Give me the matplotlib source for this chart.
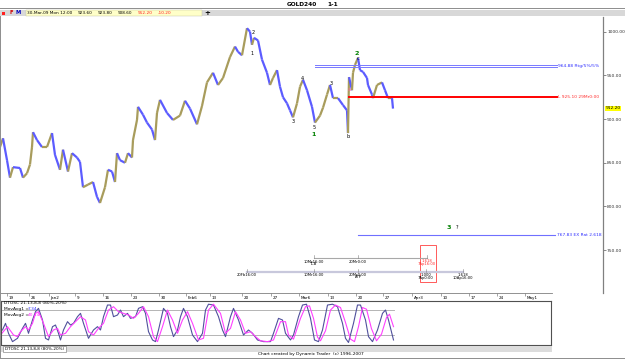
import matplotlib
matplotlib.use("Agg")
import matplotlib.pyplot as plt
from matplotlib.collections import LineCollection
from matplotlib.patches import Rectangle
from matplotlib.transforms import blended_transform_factory
import numpy as np

plt.rcParams['font.family'] = ['DejaVu Sans']

# ---------------- data ----------------
price_x = [0,3,7,10,13,20,23,27,30,32,33,37,42,47,52,55,60,63,68,72,77,80,83,88,93,97,100,105,108,112,
           115,117,120,125,128,132,133,137,138,143,147,152,155,157,160,167,173,180,185,190,197,202,207,213,
           218,223,230,235,238,242,247,250,252,254,258,262,267,270,273,277,280,283,287,290,293,297,300,303,
           307,312,315,320,323,327,330,333,338,343,347,348,349,352,353,355,358,360,363,367,368,372,373,377,
           382,385,388,392,393]
prices = [868,878,853,833,845,844,833,838,848,868,885,876,868,868,884,859,842,865,840,861,856,851,822,825,
          828,811,804,822,842,840,828,861,853,850,861,856,876,899,914,905,896,888,876,907,922,907,899,904,
          921,912,894,915,942,953,939,947,971,983,977,973,1004,1000,985,993,990,968,953,939,947,956,937,925,
          918,910,902,918,937,945,933,914,896,904,913,928,939,924,924,916,910,884,948,933,953,962,970,956,
          954,947,939,928,924,939,942,933,924,924,912]

osc1_x = [2,5,8,12,17,22,25,28,32,35,38,42,45,48,52,55,58,60,63,67,70,73,77,80,83,88,93,97,100,103,
          107,110,113,117,120,123,127,130,135,138,142,145,148,152,155,158,163,167,170,173,177,180,183,187,
          192,197,202,205,208,213,218,222,225,230,233,238,243,248,252,257,263,270,273,278,282,285,290,293,
          298,302,306,310,314,318,322,327,332,337,342,345,348,353,357,360,365,368,372,377,382,385,388,393]
osc1 = [32,48,24,4,12,36,48,24,56,76,84,56,12,8,40,44,24,8,32,52,44,48,64,72,48,12,32,40,32,64,
        92,92,64,68,80,64,72,60,64,84,88,72,28,8,4,32,84,72,40,16,32,64,84,64,20,4,24,80,94,92,
        64,32,16,64,84,56,20,32,24,8,4,4,24,60,56,24,8,20,64,92,94,60,8,4,32,92,94,88,48,12,
        2,48,92,92,56,16,4,32,72,80,56,8]

osc2_x = [0,7,13,17,20,25,28,32,35,38,43,48,53,57,60,65,70,75,80,85,88,93,98,103,108,113,118,123,128,133,
          138,143,148,153,157,162,167,172,177,182,187,192,198,203,208,213,220,225,230,235,240,245,250,255,
          260,267,273,280,285,288,293,300,305,309,313,317,320,325,330,335,340,345,350,354,358,362,366,371,
          376,381,386,389,393]
osc2 = [20,40,20,16,28,40,32,48,72,76,48,16,32,36,20,24,40,52,64,56,28,20,36,48,80,88,76,72,68,60,
        72,88,64,16,4,40,80,56,24,56,76,48,8,12,80,94,72,24,36,76,56,24,28,16,6,4,8,52,52,20,
        10,60,88,90,60,15,6,30,80,92,86,50,10,4,40,86,82,35,6,22,62,70,40]

date_ticks = [7,29,49,75,103,131,159,186,210,242,271,299,328,356,383,412,441,469,497,525]
date_labels = ['19','26','Jan2','9','16','23','30','Feb6','13','20','27','Mar6',
               '13','20','27','Apr3','10','17','24','May1']

price_ticks = [750, 800, 850, 900, 950, 1000]
last_price = 912.20
eq_levels = [962.0, 959.8]
red_level = 925.1
ext_level = 767.83

# wave labels: (x, price, text, color)
wave_labels = [(253, 998.5, '2', 'black'), (252, 975.6, '1', 'black'), (293, 896.7, '3', 'black'),
               (302, 947.0, '4', 'black'), (314, 889.8, '5', 'black'), (314, 882.9, '1', '#008000'),
               (331, 940.2, '3', 'black'), (348, 880.6, 'b', 'black'), (349, 933.3, 'a', '#ff60a0'),
               (358, 968.8, 'c', 'black'), (357, 975.6, '2', '#008000'),
               (449, 776.5, '3', '#008000'), (457, 776.5, '?', 'black')]

W, H = 625, 359
fig = plt.figure(figsize=(W/100, H/100), dpi=100)
fig.patch.set_facecolor('white')

def fr(x0, y0, x1, y1):
    return [x0/W, 1 - y1/H, (x1-x0)/W, (y1-y0)/H]

# ---------------- window chrome ----------------
def frect(x0, y0, x1, y1, **kw):
    fig.add_artist(Rectangle((x0/W, 1-y1/H), (x1-x0)/W, (y1-y0)/H,
                             transform=fig.transFigure, **kw))

frect(0, 7.5, W, 8.5, facecolor='#909090', edgecolor='none')
frect(0, 9.5, W, 16, facecolor='#d8d8d8', edgecolor='none')
frect(26, 10, 202, 15.5, facecolor='#ffffc8', edgecolor='#c0c0a0', lw=0.3)
frect(2, 11.5, 5, 14.5, facecolor='#ff2020', edgecolor='none')
fig.text(10/W, 1-13/H, 'F', color='#d00000', fontsize=3.8, fontweight='bold', va='center')
fig.text(16/W, 1-13/H, 'M', color='#0000c0', fontsize=3.8, fontweight='bold', va='center')
fig.text(207/W, 1-13/H, '+', color='black', fontsize=5, fontweight='bold', va='center', ha='center')
info = [(27, '30-Mar-09 Mon 12:00', 'black'), (78, '923.60', 'black'), (98, '923.80', 'black'),
        (118, '908.60', 'black'), (138, '912.20', '#ff2020'), (158, '-10.20', '#ff2020')]
for x, t, c in info:
    fig.text(x/W, 1-12.9/H, t, color=c, fontsize=3.1, va='center')
fig.text(287/W, 1-4.3/H, 'GOLD240', fontsize=4.2, fontweight='bold', va='center')
fig.text(327/W, 1-4.3/H, '1-1', fontsize=4.2, fontweight='bold', va='center')
frect(0, 16, 1, 358, facecolor='#909090', edgecolor='none')
frect(0, 357.5, W, 358.5, facecolor='#909090', edgecolor='none')

# ---------------- main price panel ----------------
ax = fig.add_axes(fr(0, 17, 603, 293))
ax.set_xlim(0, 603)
ax.set_ylim(701, 1016.8)
ax.set_facecolor('none')
for s in ['top', 'left', 'bottom']:
    ax.spines[s].set_visible(False)
ax.spines['right'].set_color('#808080')
ax.spines['right'].set_linewidth(0.9)
ax.set_xticks([])
ax.yaxis.tick_right()
ax.set_yticks(price_ticks)
ax.set_yticklabels([f'{v:.2f}' for v in price_ticks])
ax.tick_params(axis='y', labelsize=3.2, length=2, width=0.4, pad=1, colors='#303030')

pts = np.column_stack([price_x, prices])
segs = np.stack([pts[:-1], pts[1:]], axis=1)
cols = ['#a89c5c' if prices[i+1] >= prices[i] else '#5c5cff' for i in range(len(prices)-1)]
ax.add_collection(LineCollection(segs, colors=cols, linewidths=1.6))

tr = blended_transform_factory(ax.transAxes, ax.transData)
ax.text(1.004, last_price, f'{last_price:.2f}', transform=tr, fontsize=3.2, va='center', ha='left',
        bbox=dict(facecolor='#ffff00', edgecolor='none', pad=0.6))

for lv in eq_levels:
    ax.plot([315, 557], [lv, lv], color='#7878ff', lw=0.7)
ax.text(558, 961, '964.88 Rtg/5%/5%', color='#3030ff', fontsize=3.2, va='center')
ax.plot([349, 557], [red_level, red_level], color='#ff0000', lw=1.4)
ax.text(558, red_level, 'L 925.10 29Mr0:00', color='#ff3030', fontsize=3.2, va='center')
ax.plot([358, 555], [ext_level, ext_level], color='#7070ff', lw=0.8)
ax.text(557, ext_level, f'{ext_level:.2f} EX Rat 2.618', color='#3030ff', fontsize=3.2, va='center')

for x, p, t, c in wave_labels:
    big = c == '#008000'
    ax.text(x, p, t, color=c, fontsize=4.6 if big else 3.6, ha='center', va='center',
            fontweight='bold' if big else 'normal')

# time projection bands
tb1_y, tb2_y = 741.1, 725.0
ax.plot([314, 427], [tb1_y, tb1_y], color='#a8a8a8', lw=0.8)
ax.plot([247, 463], [tb2_y, tb2_y], color='#c8c8dc', lw=1.6)
for x in [314, 358, 427]:
    ax.plot([x, x], [tb1_y, tb1_y + 3], color='#808080', lw=0.4)
for x in [247, 314, 358, 426, 463]:
    ax.plot([x, x], [tb2_y, tb2_y + 3], color='#808080', lw=0.4)
tl = [(314, 736.8, '10Mr16:00', 'black'), (314, 734.0, 'TCB', 'black'), (358, 736.8, '20Mr0:00', 'black'),
      (427, 737.5, '1.618', '#ff3030'), (427, 734.5, '7Ap16:00', '#ff3030'),
      (247, 721.3, '20Fb16:00', 'black'), (314, 721.3, '10Mr16:00', 'black'),
      (358, 722.0, '20Mr0:00', 'black'), (358, 719.0, 'ATP', 'black'),
      (426, 721.3, '1.000', 'black'), (426, 718.3, '7Ap0:00', 'black'),
      (463, 721.8, '1.618', 'black'), (463, 718.3, '10Ap16:00', 'black')]
for x, p, t, c in tl:
    ax.text(x, p, t, color=c, fontsize=2.7, ha='center', va='center')
ax.add_patch(Rectangle((420, 713.7), 16, 42.3, facecolor='none', edgecolor='#ff4040', lw=0.6))

# ---------------- date strip ----------------
axd = fig.add_axes(fr(0, 293, 552, 300))
axd.set_xlim(0, 552)
axd.set_ylim(0, 1)
axd.set_facecolor('none')
for s in ['left', 'right', 'bottom']:
    axd.spines[s].set_visible(False)
axd.spines['top'].set_color('#808080')
axd.spines['top'].set_linewidth(0.6)
axd.set_yticks([])
axd.xaxis.tick_top()
axd.set_xticks(date_ticks)
axd.set_xticklabels([])
axd.tick_params(axis='x', direction='in', length=2, width=0.4, colors='#606060')
for x, t in zip(date_ticks, date_labels):
    axd.text(x + 1.5, 0.35, t, fontsize=3.0, ha='left', va='center')

# ---------------- oscillator panel ----------------
axo = fig.add_axes(fr(0.5, 301, 551, 345))
axo.set_xlim(0, 550.5)
axo.set_ylim(-4.1, 101.7)
axo.set_xticks([])
axo.set_yticks([])
for s in axo.spines.values():
    s.set_color('#505050')
    s.set_linewidth(0.8)
axo.axhline(80, color='#a8a8a8', lw=0.6, xmax=393/550.5)
axo.axhline(20, color='#a8a8a8', lw=0.6, xmax=393/550.5)
axo.plot(osc1_x, osc1, color='#50509c', lw=0.8)
axo.plot(osc2_x, osc2, color='#ff40ff', lw=0.8)
axo.text(3, 96, 'DTOSC 21.13,8,8 (80%-20%)', fontsize=3.2, va='center')
axo.text(3, 82, 'MovAvg1 =', fontsize=3.2, va='center')
axo.text(27, 82, '7.34', fontsize=3.2, va='center', color='#3030ff')
axo.text(3, 68, 'MovAvg2 =', fontsize=3.2, va='center')
axo.text(27, 68, '40.14', fontsize=3.2, va='center', color='#ff30ff')

# bottom tab strip and footer
frect(1, 345.5, 552, 352, facecolor='#dcdcdc', edgecolor='none')
frect(3, 345.5, 66, 351.5, facecolor='white', edgecolor='#707070', lw=0.4)
fig.text(5/W, 1-348.7/H, 'DTOSC 21.13,8,8 (80%-20%)', fontsize=3.0, va='center')
fig.text(258/W, 1-354.5/H, 'Chart created by Dynamic Trader  (c) 1996-2007', fontsize=3.2, va='center')

fig.savefig('out.png', dpi=100)
